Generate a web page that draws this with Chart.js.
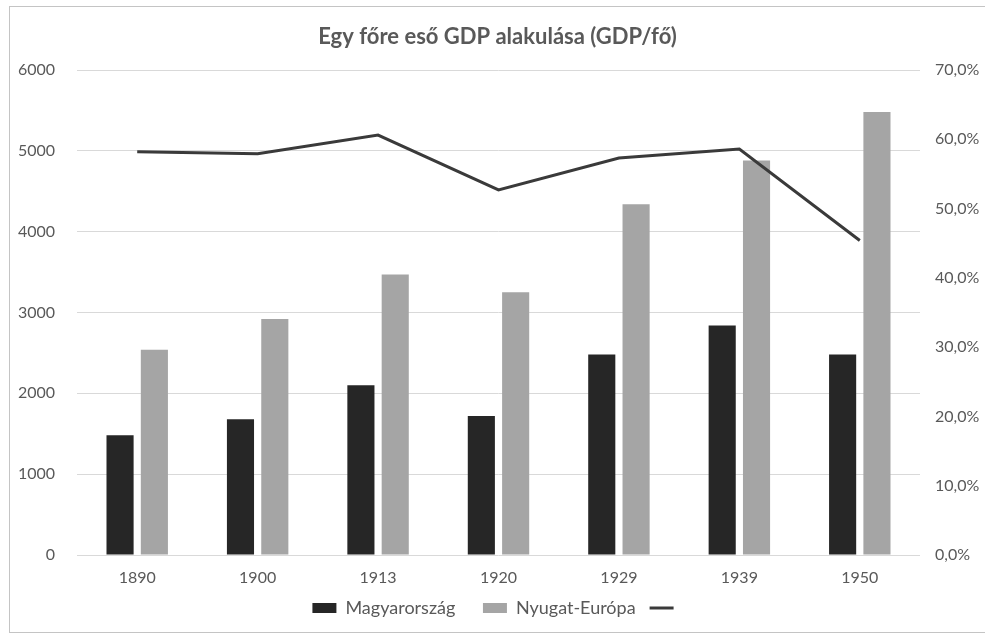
<!DOCTYPE html>
<html>
<head>
<meta charset="utf-8">
<script src="https://cdn.jsdelivr.net/npm/chart.js@4"></script>
<style>
  html, body { margin: 0; padding: 0; background: #fff; }
  #wrap { width: 985px; height: 639px; }
</style>
</head>
<body>
<div id="wrap"><canvas id="gdpChart" width="985" height="639"></canvas></div>
<script>
const years = ['1890', '1900', '1913', '1920', '1929', '1939', '1950'];
const magyarorszag = [1480, 1680, 2100, 1720, 2480, 2840, 2480];
const nyugatEuropa = [2540, 2920, 3470, 3250, 4340, 4880, 5480];
const arany = [58.2, 57.9, 60.6, 52.7, 57.3, 58.6, 45.4];   // %, right axis

const textGrey = '#595959';
const fontName = 'Lato, "Open Sans", sans-serif';

// white page + the thin frame round the chart
const framePlugin = {
  id: 'frame',
  beforeDraw(chart) {
    const c = chart.ctx;
    c.save();
    c.fillStyle = '#fff';
    c.fillRect(0, 0, chart.width, chart.height);
    c.strokeStyle = '#c4c4c4';
    c.lineWidth = 1;
    c.strokeRect(9.5, 6.5, chart.width, 626);
    c.restore();
  }
};

var ctx = document.getElementById('gdpChart').getContext('2d');
var gdpChart = new Chart(ctx, {
  type: 'bar',
  data: {
    labels: years,
    datasets: [{
      label: 'Magyarország',
      data: magyarorszag,
      backgroundColor: '#262626',
      yAxisID: 'y',
      order: 2
    }, {
      label: 'Nyugat-Európa',
      data: nyugatEuropa,
      backgroundColor: '#a5a5a5',
      yAxisID: 'y',
      order: 2
    }, {
      type: 'line',
      label: '',
      data: arany,
      borderColor: '#3a3a3a',
      backgroundColor: '#3a3a3a',
      borderWidth: 3,
      pointRadius: 0,
      tension: 0,
      yAxisID: 'y1',
      order: 1
    }]
  },
  options: {
    responsive: false,
    animation: false,
    layout: { padding: { left: 10, right: 0, top: 0, bottom: 12 } },
    datasets: {
      bar: { categoryPercentage: 0.57, barPercentage: 0.79 }
    },
    plugins: {
      title: {
        display: true,
        text: 'Egy főre eső GDP alakulása (GDP/fő)',
        color: textGrey,
        font: { family: fontName, size: 22, weight: 'bold' },
        padding: { top: 24, bottom: 19.6 }
      },
      legend: {
        position: 'bottom',
        labels: {
          color: textGrey,
          font: { family: fontName, size: 18 },
          usePointStyle: true,
          pointStyleWidth: 24,
          boxHeight: 10,
          padding: 14,
          sort: function (a, b) { return a.datasetIndex - b.datasetIndex; },
          generateLabels(chart) {
            const items = Chart.defaults.plugins.legend.labels.generateLabels(chart);
            items.forEach(function (it) {
              if (it.datasetIndex === 2) {
                it.pointStyle = 'line';
                it.lineWidth = 3;
                it.strokeStyle = '#3a3a3a';
              } else {
                it.pointStyle = 'rect';
                it.lineWidth = 0;
              }
              if (it.datasetIndex === 0) it.text = it.text + ' \u2002';
            });
            return items;
          }
        }
      },
      tooltip: { enabled: false }
    },
    scales: {
      x: {
        grid: { display: false, drawTicks: false },
        border: { display: false },
        ticks: { color: textGrey, font: { family: fontName, size: 16 }, padding: 13 },
        afterFit(scale) { scale.height = 30; }
      },
      y: {
        position: 'left',
        min: 0,
        max: 6000,
        ticks: {
          stepSize: 1000,
          color: textGrey,
          font: { family: fontName, size: 16 },
          padding: 22,
          callback: function (v) { return String(v); }
        },
        grid: { color: '#d9d9d9', drawTicks: false },
        border: { display: false },
        afterFit(scale) { scale.width = 67; }
      },
      y1: {
        position: 'right',
        min: 0,
        max: 70,
        ticks: {
          stepSize: 10,
          color: textGrey,
          font: { family: fontName, size: 16 },
          padding: 15,
          callback: function (v) { return v.toFixed(1).replace('.', ',') + '%'; }
        },
        grid: { display: false, drawTicks: false },
        border: { display: false },
        afterFit(scale) { scale.width = 65; }
      }
    }
  },
  plugins: [framePlugin]
});
</script>
</body>
</html>
